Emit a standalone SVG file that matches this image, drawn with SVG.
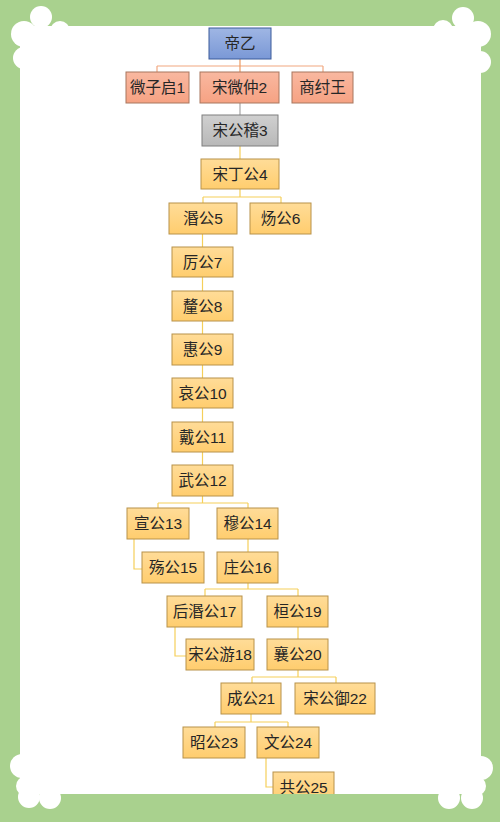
<svg xmlns="http://www.w3.org/2000/svg" width="500" height="822" viewBox="0 0 500 822">
<style>
text{font-family:"Liberation Sans","Noto Sans CJK SC",sans-serif;font-size:15.5px;fill:#262626;text-anchor:middle}
.y{fill:url(#gy);stroke:#b8924a;stroke-width:1}
.s{fill:url(#gs);stroke:#a8765e;stroke-width:1}
.b{fill:url(#gb);stroke:#3a5a9a;stroke-width:1}
.g{fill:url(#gg);stroke:#7f7f7f;stroke-width:1}
.cy{fill:none;stroke:#f5cf5a;stroke-width:1.2}
.co{fill:none;stroke:#f2a880;stroke-width:1.2}
.cg{fill:none;stroke:#a6a6a6;stroke-width:1.2}
.cl{fill:#fff}
</style>
<defs>
<linearGradient id="gy" x1="0" y1="0" x2="0" y2="1"><stop offset="0" stop-color="#ffdc98"/><stop offset="1" stop-color="#ffcd6e"/></linearGradient>
<linearGradient id="gs" x1="0" y1="0" x2="0" y2="1"><stop offset="0" stop-color="#f9b8a0"/><stop offset="1" stop-color="#f6a283"/></linearGradient>
<linearGradient id="gb" x1="0" y1="0" x2="0" y2="1"><stop offset="0" stop-color="#9fb6e4"/><stop offset="1" stop-color="#7a98d6"/></linearGradient>
<linearGradient id="gg" x1="0" y1="0" x2="0" y2="1"><stop offset="0" stop-color="#d0d0d0"/><stop offset="1" stop-color="#b8b8b8"/></linearGradient>
<clipPath id="inner"><rect x="20" y="26" width="461" height="768"/></clipPath>
</defs>
<g id="background">
<rect x="0" y="0" width="500" height="822" fill="#a9d18e"/>
<rect x="20" y="26" width="461" height="768" fill="#fff"/>
<g class="cl">
<circle cx="41" cy="17" r="11"/><circle cx="24" cy="34" r="13"/><circle cx="60" cy="31" r="10"/><circle cx="24" cy="58" r="11"/>
<circle cx="463" cy="18" r="11"/><circle cx="478" cy="34" r="13"/><circle cx="443" cy="30" r="10"/><circle cx="480" cy="62" r="11"/>
<circle cx="22" cy="766" r="12"/><circle cx="29" cy="797" r="11"/><circle cx="50" cy="798" r="11"/><circle cx="26" cy="786" r="10"/>
<circle cx="481" cy="768" r="12"/><circle cx="472" cy="798" r="11"/><circle cx="449" cy="798" r="11"/><circle cx="476" cy="786" r="10"/>
</g>
</g>
<g clip-path="url(#inner)">
<g id="connectors">
<path class="co" d="M157,66H323M157,66V72M323,66V72"/>
<path fill="none" stroke="#ec9a62" stroke-width="1.2" d="M240,59V72"/>
<path class="cg" d="M240,103V115"/>
<path class="cy" d="M240,146V159"/>
<path class="cy" d="M240,189V197M203,197H281M203,197V203M281,197V203"/>
<path class="cy" d="M202.5,234V465"/>
<path class="cy" d="M202.5,496V503M158,503H248M158,503V508M248,503V508"/>
<path class="cy" d="M134,539V569H142"/>
<path class="cy" d="M248,539V552"/>
<path class="cy" d="M248,583V589M205,589H298M205,589V596M298,589V596"/>
<path class="cy" d="M175,627V656H186"/>
<path class="cy" d="M298,627V639"/>
<path class="cy" d="M298,670V677M252,677H336M252,677V683M336,677V683"/>
<path class="cy" d="M251,714V722M215,722H288M215,722V727M288,722V727"/>
<path class="cy" d="M266,758V787H273"/>
</g>
<g id="n0"><rect class="b" x="209" y="28" width="62" height="31"/><text x="240" y="49">帝乙</text></g>
<g id="n1"><rect class="s" x="126" y="72" width="63" height="31"/><text x="157.5" y="93">微子启1</text></g>
<g id="n2"><rect class="s" x="200" y="72" width="79" height="31"/><text x="239.5" y="93">宋微仲2</text></g>
<g id="nz"><rect class="s" x="292" y="72" width="61" height="31"/><text x="322.5" y="93">商纣王</text></g>
<g id="n3"><rect class="g" x="202" y="115" width="76" height="31"/><text x="240" y="136">宋公稽3</text></g>
<g id="n4"><rect class="y" x="201" y="159" width="78" height="30"/><text x="240" y="179.5">宋丁公4</text></g>
<g id="n5"><rect class="y" x="169" y="203" width="68" height="31"/><text x="203" y="224">湣公5</text></g>
<g id="n6"><rect class="y" x="250" y="203" width="61" height="31"/><text x="280.5" y="224">炀公6</text></g>
<g id="n7"><rect class="y" x="172" y="247" width="61" height="30"/><text x="202.5" y="267.5">厉公7</text></g>
<g id="n8"><rect class="y" x="172" y="291" width="61" height="30"/><text x="202.5" y="311.5">釐公8</text></g>
<g id="n9"><rect class="y" x="172" y="334" width="61" height="31"/><text x="202.5" y="355">惠公9</text></g>
<g id="n10"><rect class="y" x="172" y="378" width="61" height="30"/><text x="202.5" y="398.5">哀公10</text></g>
<g id="n11"><rect class="y" x="172" y="422" width="61" height="30"/><text x="202.5" y="442.5">戴公11</text></g>
<g id="n12"><rect class="y" x="172" y="465" width="61" height="31"/><text x="202.5" y="486">武公12</text></g>
<g id="n13"><rect class="y" x="127" y="508" width="62" height="31"/><text x="158" y="529">宣公13</text></g>
<g id="n14"><rect class="y" x="217" y="508" width="61" height="31"/><text x="247.5" y="529">穆公14</text></g>
<g id="n15"><rect class="y" x="142" y="552" width="62" height="31"/><text x="173" y="573">殇公15</text></g>
<g id="n16"><rect class="y" x="217" y="552" width="61" height="31"/><text x="247.5" y="573">庄公16</text></g>
<g id="n17"><rect class="y" x="167" y="596" width="75" height="31"/><text x="204.5" y="617">后湣公17</text></g>
<g id="n19"><rect class="y" x="267" y="596" width="61" height="31"/><text x="297.5" y="617">桓公19</text></g>
<g id="n18"><rect class="y" x="186" y="639" width="68" height="31"/><text x="220" y="660">宋公游18</text></g>
<g id="n20"><rect class="y" x="267" y="639" width="61" height="31"/><text x="297.5" y="660">襄公20</text></g>
<g id="n21"><rect class="y" x="221" y="683" width="60" height="31"/><text x="251" y="704">成公21</text></g>
<g id="n22"><rect class="y" x="295" y="683" width="80" height="31"/><text x="335" y="704">宋公御22</text></g>
<g id="n23"><rect class="y" x="183" y="727" width="62" height="31"/><text x="214" y="748">昭公23</text></g>
<g id="n24"><rect class="y" x="257" y="727" width="62" height="31"/><text x="288" y="748">文公24</text></g>
<g id="n25"><rect class="y" x="273" y="772" width="61" height="31"/><text x="303.5" y="793">共公25</text></g>
</g>
</svg>
